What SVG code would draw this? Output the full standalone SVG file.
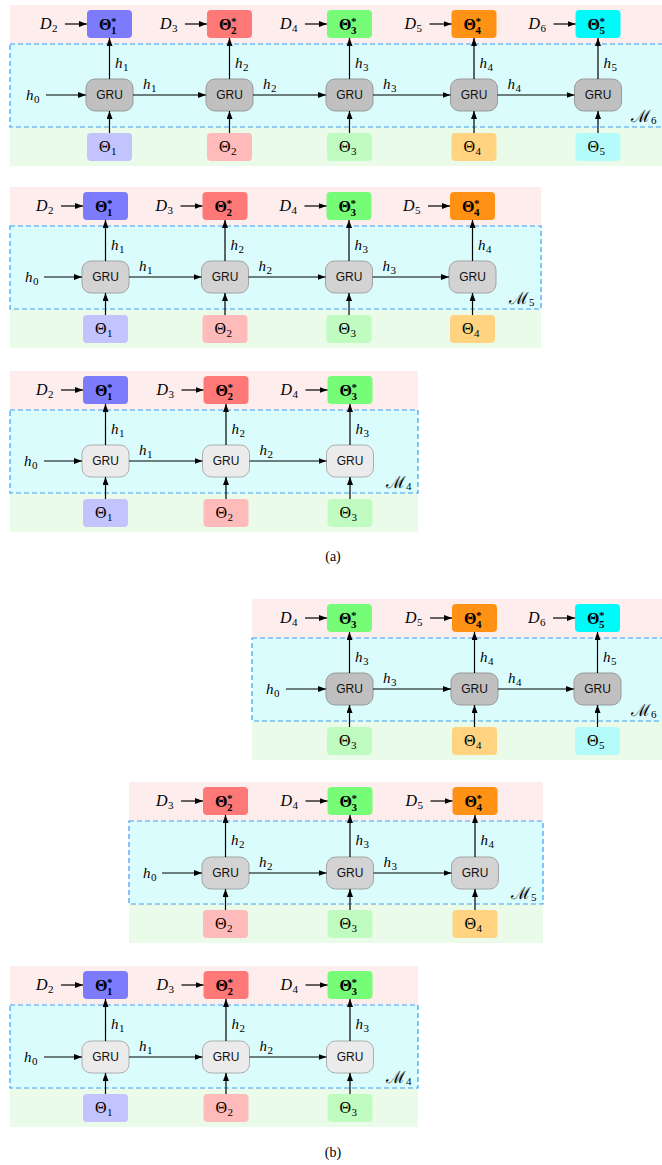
<svg xmlns="http://www.w3.org/2000/svg" width="662" height="1165" viewBox="0 0 662 1165">
<style>
.pk{fill:#fdeded}
.cy{fill:#dbfcfd;stroke:#3aa0f5;stroke-width:1.2;stroke-dasharray:5 3}
.gn{fill:#eafbea}
.g1{fill:#c0c0c0;stroke:#999;stroke-width:1}
.g2{fill:#d3d3d3;stroke:#a3a3a3;stroke-width:1}
.g3{fill:#ebebeb;stroke:#aeaeae;stroke-width:1}
.s1{fill:#7b7bfc}.b1{fill:#c3c3fd}
.s2{fill:#ff7878}.b2{fill:#ffbaba}
.s3{fill:#77fc77}.b3{fill:#c0fcc0}
.s4{fill:#ff9214}.b4{fill:#ffd37f}
.s5{fill:#00fafa}.b5{fill:#b4fcfc}
.a{stroke:#000;stroke-width:1.2;fill:none;marker-end:url(#ah)}
.gt{font-family:"Liberation Sans",Arial,sans-serif;font-size:12px;text-anchor:middle;fill:#111}
.m{font-family:"Liberation Serif","DejaVu Serif",serif;font-size:16px;fill:#000}
.h{font-size:15px}
.i{font-style:italic}
.s{font-size:11px;font-style:normal}
.b{font-weight:bold}
.ml{font-family:"Liberation Serif","DejaVu Serif",serif;font-size:17px;fill:#000}
.ms{font-family:"Liberation Serif","DejaVu Serif",serif;font-size:11px;fill:#000}
.cap{font-family:"Liberation Serif",serif;font-size:14px;text-anchor:middle;fill:#000}
</style>
<defs>
<marker id="ah" markerWidth="8" markerHeight="6" refX="8" refY="3" orient="auto" markerUnits="userSpaceOnUse"><path d="M0,0L8,3L0,6z" fill="#000"/></marker>
</defs>

<!-- ============ Panel 1 (a) M6 ============ -->
<g id="p1">
<rect class="pk" x="10" y="5" width="652" height="39"/>
<rect class="gn" x="10" y="127" width="652" height="39"/>
<rect id="p1-M6" class="cy" x="10" y="44" width="656" height="83"/>
<text class="ml" x="631" y="122">ℳ</text><text class="ms" x="651" y="124">6</text>
<g id="p1-D2"><text class="m" x="40" y="29"><tspan class="i">D</tspan><tspan class="s" x="52" y="32">2</tspan></text></g>
<g id="p1-D3"><text class="m" x="160" y="29"><tspan class="i">D</tspan><tspan class="s" x="172" y="32">3</tspan></text></g>
<g id="p1-D4"><text class="m" x="280" y="29"><tspan class="i">D</tspan><tspan class="s" x="292" y="32">4</tspan></text></g>
<g id="p1-D5"><text class="m" x="404.5" y="29"><tspan class="i">D</tspan><tspan class="s" x="416.5" y="32">5</tspan></text></g>
<g id="p1-D6"><text class="m" x="528.5" y="29"><tspan class="i">D</tspan><tspan class="s" x="540.5" y="32">6</tspan></text></g>
<g id="p1-T1s"><rect class="s1" x="87" y="10" width="45" height="28" rx="4"/><text class="m b" x="99" y="30">Θ<tspan class="s" x="111" y="25">*</tspan><tspan class="s" x="111" y="34">1</tspan></text></g>
<g id="p1-T2s"><rect class="s2" x="207" y="10" width="45" height="28" rx="4"/><text class="m b" x="219" y="30">Θ<tspan class="s" x="231" y="25">*</tspan><tspan class="s" x="231" y="34">2</tspan></text></g>
<g id="p1-T3s"><rect class="s3" x="327" y="10" width="45" height="28" rx="4"/><text class="m b" x="339" y="30">Θ<tspan class="s" x="351" y="25">*</tspan><tspan class="s" x="351" y="34">3</tspan></text></g>
<g id="p1-T4s"><rect class="s4" x="451.5" y="10" width="45" height="28" rx="4"/><text class="m b" x="463.5" y="30">Θ<tspan class="s" x="475.5" y="25">*</tspan><tspan class="s" x="475.5" y="34">4</tspan></text></g>
<g id="p1-T5s"><rect class="s5" x="575.5" y="10" width="45" height="28" rx="4"/><text class="m b" x="587.5" y="30">Θ<tspan class="s" x="599.5" y="25">*</tspan><tspan class="s" x="599.5" y="34">5</tspan></text></g>
<g id="p1-h0"><text class="m h" x="26" y="100"><tspan class="i">h</tspan><tspan class="s" x="34" y="103">0</tspan></text></g>
<g id="p1-G1"><rect class="g1" x="86" y="79" width="47" height="32" rx="9"/><text class="gt" x="109.5" y="99">GRU</text></g>
<g id="p1-G2"><rect class="g1" x="206" y="79" width="47" height="32" rx="9"/><text class="gt" x="229.5" y="99">GRU</text></g>
<g id="p1-G3"><rect class="g1" x="326" y="79" width="47" height="32" rx="9"/><text class="gt" x="349.5" y="99">GRU</text></g>
<g id="p1-G4"><rect class="g1" x="450.5" y="79" width="47" height="32" rx="9"/><text class="gt" x="474" y="99">GRU</text></g>
<g id="p1-G5"><rect class="g1" x="574.5" y="79" width="47" height="32" rx="9"/><text class="gt" x="598" y="99">GRU</text></g>
<g id="p1-T1"><rect class="b1" x="87" y="133" width="45" height="28" rx="4"/><text class="m" x="99" y="152">Θ<tspan class="s" x="111" y="155">1</tspan></text></g>
<g id="p1-T2"><rect class="b2" x="207" y="133" width="45" height="28" rx="4"/><text class="m" x="219" y="152">Θ<tspan class="s" x="231" y="155">2</tspan></text></g>
<g id="p1-T3"><rect class="b3" x="327" y="133" width="45" height="28" rx="4"/><text class="m" x="339" y="152">Θ<tspan class="s" x="351" y="155">3</tspan></text></g>
<g id="p1-T4"><rect class="b4" x="451.5" y="133" width="45" height="28" rx="4"/><text class="m" x="463.5" y="152">Θ<tspan class="s" x="475.5" y="155">4</tspan></text></g>
<g id="p1-T5"><rect class="b5" x="575.5" y="133" width="45" height="28" rx="4"/><text class="m" x="587.5" y="152">Θ<tspan class="s" x="599.5" y="155">5</tspan></text></g>
<g id="p1-edges">
<path class="a" d="M65,24H87"/><path class="a" d="M185,24H207"/><path class="a" d="M305,24H327"/><path class="a" d="M429.5,24H451.5"/><path class="a" d="M553.5,24H575.5"/>
<path class="a" d="M109.5,79V38"/><path class="a" d="M229.5,79V38"/><path class="a" d="M349.5,79V38"/><path class="a" d="M474,79V38"/><path class="a" d="M598,79V38"/>
<path class="a" d="M109.5,133V111"/><path class="a" d="M229.5,133V111"/><path class="a" d="M349.5,133V111"/><path class="a" d="M474,133V111"/><path class="a" d="M598,133V111"/>
<path class="a" d="M46,95H86"/><path class="a" d="M133,95H206"/><path class="a" d="M253,95H326"/><path class="a" d="M373,95H450.5"/><path class="a" d="M497.5,95H574.5"/>
<text class="m h" x="115" y="68"><tspan class="i">h</tspan><tspan class="s" x="123" y="71">1</tspan></text>
<text class="m h" x="235" y="68"><tspan class="i">h</tspan><tspan class="s" x="243" y="71">2</tspan></text>
<text class="m h" x="355" y="68"><tspan class="i">h</tspan><tspan class="s" x="363" y="71">3</tspan></text>
<text class="m h" x="479.5" y="68"><tspan class="i">h</tspan><tspan class="s" x="487.5" y="71">4</tspan></text>
<text class="m h" x="603.5" y="68"><tspan class="i">h</tspan><tspan class="s" x="611.5" y="71">5</tspan></text>
<text class="m h" x="143" y="89"><tspan class="i">h</tspan><tspan class="s" x="151" y="92">1</tspan></text>
<text class="m h" x="263" y="89"><tspan class="i">h</tspan><tspan class="s" x="271" y="92">2</tspan></text>
<text class="m h" x="383" y="89"><tspan class="i">h</tspan><tspan class="s" x="391" y="92">3</tspan></text>
<text class="m h" x="507.5" y="89"><tspan class="i">h</tspan><tspan class="s" x="515.5" y="92">4</tspan></text>
</g>
</g>

<!-- ============ Panel 2 (a) M5 ============ -->
<g id="p2">
<rect class="pk" x="10" y="187" width="531" height="39"/>
<rect class="gn" x="10" y="309" width="531" height="39"/>
<rect id="p2-M5" class="cy" x="10" y="226" width="531" height="83"/>
<text class="ml" x="509" y="304">ℳ</text><text class="ms" x="529" y="306">5</text>
<g id="p2-D2"><text class="m" x="36" y="211"><tspan class="i">D</tspan><tspan class="s" x="48" y="214">2</tspan></text></g>
<g id="p2-D3"><text class="m" x="155.5" y="211"><tspan class="i">D</tspan><tspan class="s" x="167.5" y="214">3</tspan></text></g>
<g id="p2-D4"><text class="m" x="279.5" y="211"><tspan class="i">D</tspan><tspan class="s" x="291.5" y="214">4</tspan></text></g>
<g id="p2-D5"><text class="m" x="403" y="211"><tspan class="i">D</tspan><tspan class="s" x="415" y="214">5</tspan></text></g>
<g id="p2-T1s"><rect class="s1" x="83" y="192" width="45" height="28" rx="4"/><text class="m b" x="95" y="212">Θ<tspan class="s" x="107" y="207">*</tspan><tspan class="s" x="107" y="216">1</tspan></text></g>
<g id="p2-T2s"><rect class="s2" x="202.5" y="192" width="45" height="28" rx="4"/><text class="m b" x="214.5" y="212">Θ<tspan class="s" x="226.5" y="207">*</tspan><tspan class="s" x="226.5" y="216">2</tspan></text></g>
<g id="p2-T3s"><rect class="s3" x="326.5" y="192" width="45" height="28" rx="4"/><text class="m b" x="338.5" y="212">Θ<tspan class="s" x="350.5" y="207">*</tspan><tspan class="s" x="350.5" y="216">3</tspan></text></g>
<g id="p2-T4s"><rect class="s4" x="450" y="192" width="45" height="28" rx="4"/><text class="m b" x="462" y="212">Θ<tspan class="s" x="474" y="207">*</tspan><tspan class="s" x="474" y="216">4</tspan></text></g>
<g id="p2-h0"><text class="m h" x="25" y="282"><tspan class="i">h</tspan><tspan class="s" x="33" y="285">0</tspan></text></g>
<g id="p2-G1"><rect class="g2" x="82" y="261" width="47" height="32" rx="9"/><text class="gt" x="105.5" y="281">GRU</text></g>
<g id="p2-G2"><rect class="g2" x="201.5" y="261" width="47" height="32" rx="9"/><text class="gt" x="225" y="281">GRU</text></g>
<g id="p2-G3"><rect class="g2" x="325.5" y="261" width="47" height="32" rx="9"/><text class="gt" x="349" y="281">GRU</text></g>
<g id="p2-G4"><rect class="g2" x="449" y="261" width="47" height="32" rx="9"/><text class="gt" x="472.5" y="281">GRU</text></g>
<g id="p2-T1"><rect class="b1" x="83" y="315" width="45" height="28" rx="4"/><text class="m" x="95" y="334">Θ<tspan class="s" x="107" y="337">1</tspan></text></g>
<g id="p2-T2"><rect class="b2" x="202.5" y="315" width="45" height="28" rx="4"/><text class="m" x="214.5" y="334">Θ<tspan class="s" x="226.5" y="337">2</tspan></text></g>
<g id="p2-T3"><rect class="b3" x="326.5" y="315" width="45" height="28" rx="4"/><text class="m" x="338.5" y="334">Θ<tspan class="s" x="350.5" y="337">3</tspan></text></g>
<g id="p2-T4"><rect class="b4" x="450" y="315" width="45" height="28" rx="4"/><text class="m" x="462" y="334">Θ<tspan class="s" x="474" y="337">4</tspan></text></g>
<g id="p2-edges">
<path class="a" d="M61,206H83"/><path class="a" d="M180.5,206H202.5"/><path class="a" d="M304.5,206H326.5"/><path class="a" d="M428,206H450"/>
<path class="a" d="M105.5,261V220"/><path class="a" d="M225,261V220"/><path class="a" d="M349,261V220"/><path class="a" d="M472.5,261V220"/>
<path class="a" d="M105.5,315V293"/><path class="a" d="M225,315V293"/><path class="a" d="M349,315V293"/><path class="a" d="M472.5,315V293"/>
<path class="a" d="M44,277H82"/><path class="a" d="M129,277H201.5"/><path class="a" d="M248.5,277H325.5"/><path class="a" d="M372.5,277H449"/>
<text class="m h" x="111" y="250"><tspan class="i">h</tspan><tspan class="s" x="119" y="253">1</tspan></text>
<text class="m h" x="230.5" y="250"><tspan class="i">h</tspan><tspan class="s" x="238.5" y="253">2</tspan></text>
<text class="m h" x="354.5" y="250"><tspan class="i">h</tspan><tspan class="s" x="362.5" y="253">3</tspan></text>
<text class="m h" x="478" y="250"><tspan class="i">h</tspan><tspan class="s" x="486" y="253">4</tspan></text>
<text class="m h" x="139" y="271"><tspan class="i">h</tspan><tspan class="s" x="147" y="274">1</tspan></text>
<text class="m h" x="258.5" y="271"><tspan class="i">h</tspan><tspan class="s" x="266.5" y="274">2</tspan></text>
<text class="m h" x="382.5" y="271"><tspan class="i">h</tspan><tspan class="s" x="390.5" y="274">3</tspan></text>
</g>
</g>

<!-- ============ Panel 3 (a) M4 ============ -->
<g id="p3">
<rect class="pk" x="10" y="371" width="408" height="39"/>
<rect class="gn" x="10" y="493" width="408" height="39"/>
<rect id="p3-M4" class="cy" x="10" y="410" width="408" height="83"/>
<text class="ml" x="386" y="488">ℳ</text><text class="ms" x="406" y="490">4</text>
<g id="p3-D2"><text class="m" x="36" y="395"><tspan class="i">D</tspan><tspan class="s" x="48" y="398">2</tspan></text></g>
<g id="p3-D3"><text class="m" x="156.5" y="395"><tspan class="i">D</tspan><tspan class="s" x="168.5" y="398">3</tspan></text></g>
<g id="p3-D4"><text class="m" x="280.5" y="395"><tspan class="i">D</tspan><tspan class="s" x="292.5" y="398">4</tspan></text></g>
<g id="p3-T1s"><rect class="s1" x="83" y="376" width="45" height="28" rx="4"/><text class="m b" x="95" y="396">Θ<tspan class="s" x="107" y="391">*</tspan><tspan class="s" x="107" y="400">1</tspan></text></g>
<g id="p3-T2s"><rect class="s2" x="203.5" y="376" width="45" height="28" rx="4"/><text class="m b" x="215.5" y="396">Θ<tspan class="s" x="227.5" y="391">*</tspan><tspan class="s" x="227.5" y="400">2</tspan></text></g>
<g id="p3-T3s"><rect class="s3" x="327.5" y="376" width="45" height="28" rx="4"/><text class="m b" x="339.5" y="396">Θ<tspan class="s" x="351.5" y="391">*</tspan><tspan class="s" x="351.5" y="400">3</tspan></text></g>
<g id="p3-h0"><text class="m h" x="24" y="466"><tspan class="i">h</tspan><tspan class="s" x="32" y="469">0</tspan></text></g>
<g id="p3-G1"><rect class="g3" x="82" y="445" width="47" height="32" rx="9"/><text class="gt" x="105.5" y="465">GRU</text></g>
<g id="p3-G2"><rect class="g3" x="202.5" y="445" width="47" height="32" rx="9"/><text class="gt" x="226" y="465">GRU</text></g>
<g id="p3-G3"><rect class="g3" x="326.5" y="445" width="47" height="32" rx="9"/><text class="gt" x="350" y="465">GRU</text></g>
<g id="p3-T1"><rect class="b1" x="83" y="499" width="45" height="28" rx="4"/><text class="m" x="95" y="518">Θ<tspan class="s" x="107" y="521">1</tspan></text></g>
<g id="p3-T2"><rect class="b2" x="203.5" y="499" width="45" height="28" rx="4"/><text class="m" x="215.5" y="518">Θ<tspan class="s" x="227.5" y="521">2</tspan></text></g>
<g id="p3-T3"><rect class="b3" x="327.5" y="499" width="45" height="28" rx="4"/><text class="m" x="339.5" y="518">Θ<tspan class="s" x="351.5" y="521">3</tspan></text></g>
<g id="p3-edges">
<path class="a" d="M61,390H83"/><path class="a" d="M181.5,390H203.5"/><path class="a" d="M305.5,390H327.5"/>
<path class="a" d="M105.5,445V404"/><path class="a" d="M226,445V404"/><path class="a" d="M350,445V404"/>
<path class="a" d="M105.5,499V477"/><path class="a" d="M226,499V477"/><path class="a" d="M350,499V477"/>
<path class="a" d="M44,461H82"/><path class="a" d="M129,461H202.5"/><path class="a" d="M249.5,461H326.5"/>
<text class="m h" x="111" y="434"><tspan class="i">h</tspan><tspan class="s" x="119" y="437">1</tspan></text>
<text class="m h" x="231.5" y="434"><tspan class="i">h</tspan><tspan class="s" x="239.5" y="437">2</tspan></text>
<text class="m h" x="355.5" y="434"><tspan class="i">h</tspan><tspan class="s" x="363.5" y="437">3</tspan></text>
<text class="m h" x="139" y="455"><tspan class="i">h</tspan><tspan class="s" x="147" y="458">1</tspan></text>
<text class="m h" x="259.5" y="455"><tspan class="i">h</tspan><tspan class="s" x="267.5" y="458">2</tspan></text>
</g>
</g>

<text id="cap-a" class="cap" x="333" y="561">(a)</text>

<!-- ============ Panel 4 (b) M6 ============ -->
<g id="p4">
<rect class="pk" x="252" y="599" width="410" height="39"/>
<rect class="gn" x="252" y="721" width="410" height="39"/>
<rect id="p4-M6" class="cy" x="252" y="638" width="414" height="83"/>
<text class="ml" x="631" y="716">ℳ</text><text class="ms" x="651" y="718">6</text>
<g id="p4-D4"><text class="m" x="280" y="623"><tspan class="i">D</tspan><tspan class="s" x="292" y="626">4</tspan></text></g>
<g id="p4-D5"><text class="m" x="405" y="623"><tspan class="i">D</tspan><tspan class="s" x="417" y="626">5</tspan></text></g>
<g id="p4-D6"><text class="m" x="528" y="623"><tspan class="i">D</tspan><tspan class="s" x="540" y="626">6</tspan></text></g>
<g id="p4-T3s"><rect class="s3" x="327" y="604" width="45" height="28" rx="4"/><text class="m b" x="339" y="624">Θ<tspan class="s" x="351" y="619">*</tspan><tspan class="s" x="351" y="628">3</tspan></text></g>
<g id="p4-T4s"><rect class="s4" x="452" y="604" width="45" height="28" rx="4"/><text class="m b" x="464" y="624">Θ<tspan class="s" x="476" y="619">*</tspan><tspan class="s" x="476" y="628">4</tspan></text></g>
<g id="p4-T5s"><rect class="s5" x="575" y="604" width="45" height="28" rx="4"/><text class="m b" x="587" y="624">Θ<tspan class="s" x="599" y="619">*</tspan><tspan class="s" x="599" y="628">5</tspan></text></g>
<g id="p4-h0"><text class="m h" x="266" y="694"><tspan class="i">h</tspan><tspan class="s" x="274" y="697">0</tspan></text></g>
<g id="p4-G3"><rect class="g1" x="326" y="673" width="47" height="32" rx="9"/><text class="gt" x="349.5" y="693">GRU</text></g>
<g id="p4-G4"><rect class="g1" x="451" y="673" width="47" height="32" rx="9"/><text class="gt" x="474.5" y="693">GRU</text></g>
<g id="p4-G5"><rect class="g1" x="574" y="673" width="47" height="32" rx="9"/><text class="gt" x="597.5" y="693">GRU</text></g>
<g id="p4-T3"><rect class="b3" x="327" y="727" width="45" height="28" rx="4"/><text class="m" x="339" y="746">Θ<tspan class="s" x="351" y="749">3</tspan></text></g>
<g id="p4-T4"><rect class="b4" x="452" y="727" width="45" height="28" rx="4"/><text class="m" x="464" y="746">Θ<tspan class="s" x="476" y="749">4</tspan></text></g>
<g id="p4-T5"><rect class="b5" x="575" y="727" width="45" height="28" rx="4"/><text class="m" x="587" y="746">Θ<tspan class="s" x="599" y="749">5</tspan></text></g>
<g id="p4-edges">
<path class="a" d="M305,618H327"/><path class="a" d="M430,618H452"/><path class="a" d="M553,618H575"/>
<path class="a" d="M349.5,673V632"/><path class="a" d="M474.5,673V632"/><path class="a" d="M597.5,673V632"/>
<path class="a" d="M349.5,727V705"/><path class="a" d="M474.5,727V705"/><path class="a" d="M597.5,727V705"/>
<path class="a" d="M286,689H326"/><path class="a" d="M373,689H451"/><path class="a" d="M498,689H574"/>
<text class="m h" x="355" y="662"><tspan class="i">h</tspan><tspan class="s" x="363" y="665">3</tspan></text>
<text class="m h" x="480" y="662"><tspan class="i">h</tspan><tspan class="s" x="488" y="665">4</tspan></text>
<text class="m h" x="603" y="662"><tspan class="i">h</tspan><tspan class="s" x="611" y="665">5</tspan></text>
<text class="m h" x="383" y="683"><tspan class="i">h</tspan><tspan class="s" x="391" y="686">3</tspan></text>
<text class="m h" x="508" y="683"><tspan class="i">h</tspan><tspan class="s" x="516" y="686">4</tspan></text>
</g>
</g>

<!-- ============ Panel 5 (b) M5 ============ -->
<g id="p5">
<rect class="pk" x="129" y="782" width="414" height="39"/>
<rect class="gn" x="129" y="904" width="414" height="39"/>
<rect id="p5-M5" class="cy" x="129" y="821" width="414" height="83"/>
<text class="ml" x="511" y="899">ℳ</text><text class="ms" x="531" y="901">5</text>
<g id="p5-D3"><text class="m" x="156" y="806"><tspan class="i">D</tspan><tspan class="s" x="168" y="809">3</tspan></text></g>
<g id="p5-D4"><text class="m" x="280.5" y="806"><tspan class="i">D</tspan><tspan class="s" x="292.5" y="809">4</tspan></text></g>
<g id="p5-D5"><text class="m" x="405.5" y="806"><tspan class="i">D</tspan><tspan class="s" x="417.5" y="809">5</tspan></text></g>
<g id="p5-T2s"><rect class="s2" x="203" y="787" width="45" height="28" rx="4"/><text class="m b" x="215" y="807">Θ<tspan class="s" x="227" y="802">*</tspan><tspan class="s" x="227" y="811">2</tspan></text></g>
<g id="p5-T3s"><rect class="s3" x="327.5" y="787" width="45" height="28" rx="4"/><text class="m b" x="339.5" y="807">Θ<tspan class="s" x="351.5" y="802">*</tspan><tspan class="s" x="351.5" y="811">3</tspan></text></g>
<g id="p5-T4s"><rect class="s4" x="452.5" y="787" width="45" height="28" rx="4"/><text class="m b" x="464.5" y="807">Θ<tspan class="s" x="476.5" y="802">*</tspan><tspan class="s" x="476.5" y="811">4</tspan></text></g>
<g id="p5-h0"><text class="m h" x="143" y="878"><tspan class="i">h</tspan><tspan class="s" x="151" y="881">0</tspan></text></g>
<g id="p5-G2"><rect class="g2" x="202" y="857" width="47" height="32" rx="9"/><text class="gt" x="225.5" y="877">GRU</text></g>
<g id="p5-G3"><rect class="g2" x="326.5" y="857" width="47" height="32" rx="9"/><text class="gt" x="350" y="877">GRU</text></g>
<g id="p5-G4"><rect class="g2" x="451.5" y="857" width="47" height="32" rx="9"/><text class="gt" x="475" y="877">GRU</text></g>
<g id="p5-T2"><rect class="b2" x="203" y="910" width="45" height="28" rx="4"/><text class="m" x="215" y="929">Θ<tspan class="s" x="227" y="932">2</tspan></text></g>
<g id="p5-T3"><rect class="b3" x="327.5" y="910" width="45" height="28" rx="4"/><text class="m" x="339.5" y="929">Θ<tspan class="s" x="351.5" y="932">3</tspan></text></g>
<g id="p5-T4"><rect class="b4" x="452.5" y="910" width="45" height="28" rx="4"/><text class="m" x="464.5" y="929">Θ<tspan class="s" x="476.5" y="932">4</tspan></text></g>
<g id="p5-edges">
<path class="a" d="M181,801H203"/><path class="a" d="M305.5,801H327.5"/><path class="a" d="M430.5,801H452.5"/>
<path class="a" d="M225.5,857V815"/><path class="a" d="M350,857V815"/><path class="a" d="M475,857V815"/>
<path class="a" d="M225.5,910V889"/><path class="a" d="M350,910V889"/><path class="a" d="M475,910V889"/>
<path class="a" d="M162,873H202"/><path class="a" d="M249,873H326.5"/><path class="a" d="M373.5,873H451.5"/>
<text class="m h" x="231" y="845"><tspan class="i">h</tspan><tspan class="s" x="239" y="848">2</tspan></text>
<text class="m h" x="355.5" y="845"><tspan class="i">h</tspan><tspan class="s" x="363.5" y="848">3</tspan></text>
<text class="m h" x="480.5" y="845"><tspan class="i">h</tspan><tspan class="s" x="488.5" y="848">4</tspan></text>
<text class="m h" x="259" y="867"><tspan class="i">h</tspan><tspan class="s" x="267" y="870">2</tspan></text>
<text class="m h" x="383.5" y="867"><tspan class="i">h</tspan><tspan class="s" x="391.5" y="870">3</tspan></text>
</g>
</g>

<!-- ============ Panel 6 (b) M4 ============ -->
<g id="p6">
<rect class="pk" x="10" y="966" width="408" height="39"/>
<rect class="gn" x="10" y="1088" width="408" height="39"/>
<rect id="p6-M4" class="cy" x="10" y="1005" width="408" height="83"/>
<text class="ml" x="386" y="1083">ℳ</text><text class="ms" x="406" y="1085">4</text>
<g id="p6-D2"><text class="m" x="36" y="990"><tspan class="i">D</tspan><tspan class="s" x="48" y="993">2</tspan></text></g>
<g id="p6-D3"><text class="m" x="156.5" y="990"><tspan class="i">D</tspan><tspan class="s" x="168.5" y="993">3</tspan></text></g>
<g id="p6-D4"><text class="m" x="280.5" y="990"><tspan class="i">D</tspan><tspan class="s" x="292.5" y="993">4</tspan></text></g>
<g id="p6-T1s"><rect class="s1" x="83" y="971" width="45" height="28" rx="4"/><text class="m b" x="95" y="991">Θ<tspan class="s" x="107" y="986">*</tspan><tspan class="s" x="107" y="995">1</tspan></text></g>
<g id="p6-T2s"><rect class="s2" x="203.5" y="971" width="45" height="28" rx="4"/><text class="m b" x="215.5" y="991">Θ<tspan class="s" x="227.5" y="986">*</tspan><tspan class="s" x="227.5" y="995">2</tspan></text></g>
<g id="p6-T3s"><rect class="s3" x="327.5" y="971" width="45" height="28" rx="4"/><text class="m b" x="339.5" y="991">Θ<tspan class="s" x="351.5" y="986">*</tspan><tspan class="s" x="351.5" y="995">3</tspan></text></g>
<g id="p6-h0"><text class="m h" x="24" y="1062"><tspan class="i">h</tspan><tspan class="s" x="32" y="1065">0</tspan></text></g>
<g id="p6-G1"><rect class="g3" x="82" y="1041" width="47" height="32" rx="9"/><text class="gt" x="105.5" y="1061">GRU</text></g>
<g id="p6-G2"><rect class="g3" x="202.5" y="1041" width="47" height="32" rx="9"/><text class="gt" x="226" y="1061">GRU</text></g>
<g id="p6-G3"><rect class="g3" x="326.5" y="1041" width="47" height="32" rx="9"/><text class="gt" x="350" y="1061">GRU</text></g>
<g id="p6-T1"><rect class="b1" x="83" y="1094" width="45" height="28" rx="4"/><text class="m" x="95" y="1113">Θ<tspan class="s" x="107" y="1116">1</tspan></text></g>
<g id="p6-T2"><rect class="b2" x="203.5" y="1094" width="45" height="28" rx="4"/><text class="m" x="215.5" y="1113">Θ<tspan class="s" x="227.5" y="1116">2</tspan></text></g>
<g id="p6-T3"><rect class="b3" x="327.5" y="1094" width="45" height="28" rx="4"/><text class="m" x="339.5" y="1113">Θ<tspan class="s" x="351.5" y="1116">3</tspan></text></g>
<g id="p6-edges">
<path class="a" d="M61,985H83"/><path class="a" d="M181.5,985H203.5"/><path class="a" d="M305.5,985H327.5"/>
<path class="a" d="M105.5,1041V999"/><path class="a" d="M226,1041V999"/><path class="a" d="M350,1041V999"/>
<path class="a" d="M105.5,1094V1073"/><path class="a" d="M226,1094V1073"/><path class="a" d="M350,1094V1073"/>
<path class="a" d="M44,1057H82"/><path class="a" d="M129,1057H202.5"/><path class="a" d="M249.5,1057H326.5"/>
<text class="m h" x="111" y="1029"><tspan class="i">h</tspan><tspan class="s" x="119" y="1032">1</tspan></text>
<text class="m h" x="231.5" y="1029"><tspan class="i">h</tspan><tspan class="s" x="239.5" y="1032">2</tspan></text>
<text class="m h" x="355.5" y="1029"><tspan class="i">h</tspan><tspan class="s" x="363.5" y="1032">3</tspan></text>
<text class="m h" x="139" y="1051"><tspan class="i">h</tspan><tspan class="s" x="147" y="1054">1</tspan></text>
<text class="m h" x="259.5" y="1051"><tspan class="i">h</tspan><tspan class="s" x="267.5" y="1054">2</tspan></text>
</g>
</g>

<text id="cap-b" class="cap" x="333" y="1157">(b)</text>
</svg>
